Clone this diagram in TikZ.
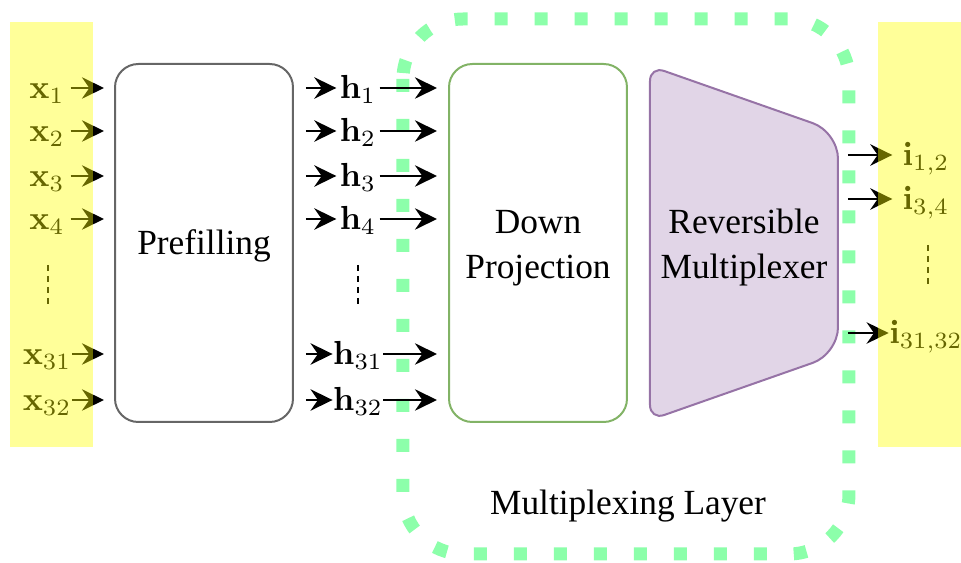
\documentclass[tikz,border=0pt]{standalone}
\usepackage[no-math]{fontspec}
\setmainfont{Liberation Serif}
\usetikzlibrary{arrows.meta,calc}
\definecolor{preline}{HTML}{666666}
\definecolor{downline}{HTML}{82B366}
\definecolor{muxfill}{HTML}{E1D5E7}
\definecolor{muxline}{HTML}{9673A6}
\definecolor{layergreen}{RGB}{140,255,170}
\definecolor{bandyellow}{RGB}{255,255,0}
\tikzset{
  sig/.style={-{Stealth[length=6.6pt,width=6.4pt,inset=2.2pt]}, line width=0.8pt},
  blockbox/.style={rounded corners=7pt, line width=0.6pt, inner sep=0pt,
    minimum width=53.4pt, minimum height=107.4pt},
  mathlab/.style={inner sep=0pt, text height=6.8pt, text depth=0.5pt,
    font=\fontsize{10}{11}\selectfont},
  xlab/.style={mathlab, minimum width=13.8pt},
  hlab/.style={mathlab, minimum width=12.6pt},
  ilab/.style={mathlab, minimum width=19.8pt},
  dotline/.style={line width=0.6pt, dash pattern=on 1.8pt off 1.5pt},
  band/.style={fill=bandyellow, fill opacity=0.4},
}
\begin{document}
\begin{tikzpicture}[x=0.3pt, y=-0.3pt, font=\fontsize{10.6}{13.5}\selectfont]
\useasboundingbox (0,0) rectangle (961,563);

% multiplexing layer frame
\draw[layergreen, line width=3.9pt, dash pattern=on 3.9pt off 8.1pt,
      rounded corners=18pt] (403,19) rectangle (849,554);
\node (layer) at (628,506) {Multiplexing Layer};

% blocks
\node[blockbox, draw=preline] (pre) at (204,243) {};
\node (pretext) at (204,246) {Prefilling};
\node[blockbox, draw=downline] (down) at (538,243) {};
\node[align=center] (downtext) at (538,248) {Down\\Projection};
\draw[muxline, fill=muxfill, line width=0.6pt]
  (650,243) [rounded corners=4.5pt] -- (650,66)
  [rounded corners=8pt] -- (838,132) -- (838,354)
  [rounded corners=4.5pt] -- (650,420) -- cycle;
\node[align=center] (mux) at (744,248) {Reversible\\Multiplexer};
\coordinate (muxE) at (838,243);

% input tokens and hidden states
\foreach \n/\y in {1/88,2/131,3/176,4/219,31/354,32/400} {
  \node[xlab] (x\n) at (47,\y) {$\mathbf{x}_{\n}$};
  \node[hlab] (h\n) at (358,\y) {$\mathbf{h}_{\n}$};
  \draw[sig, shorten >=3pt] (x\n.east) -- (x\n -| pre.west);
  \draw[sig, shorten <=3.6pt] (h\n -| pre.east) -- (h\n.west);
  \draw[sig, shorten >=3.3pt] (h\n.east) -- (h\n -| down.west);
}
\draw[dotline] (48,265) -- (48,308);
\draw[dotline] (358,265) -- (358,308);

% multiplexed outputs
\foreach \n/\lab/\y in {12/{1,2}/155, 34/{3,4}/199, 3132/{31,32}/333} {
  \node[ilab] (i\n) at (926,\y) {$\mathbf{i}_{\lab}$};
  \draw[sig, shorten <=3pt] (i\n -| muxE) -- (i\n.west);
}
\draw[dotline] (928,245) -- (928,288);

% highlighted input and output columns
\fill[band] (10,22) rectangle (93,447);
\fill[band] (878,22) rectangle (961,447);
\end{tikzpicture}
\end{document}
